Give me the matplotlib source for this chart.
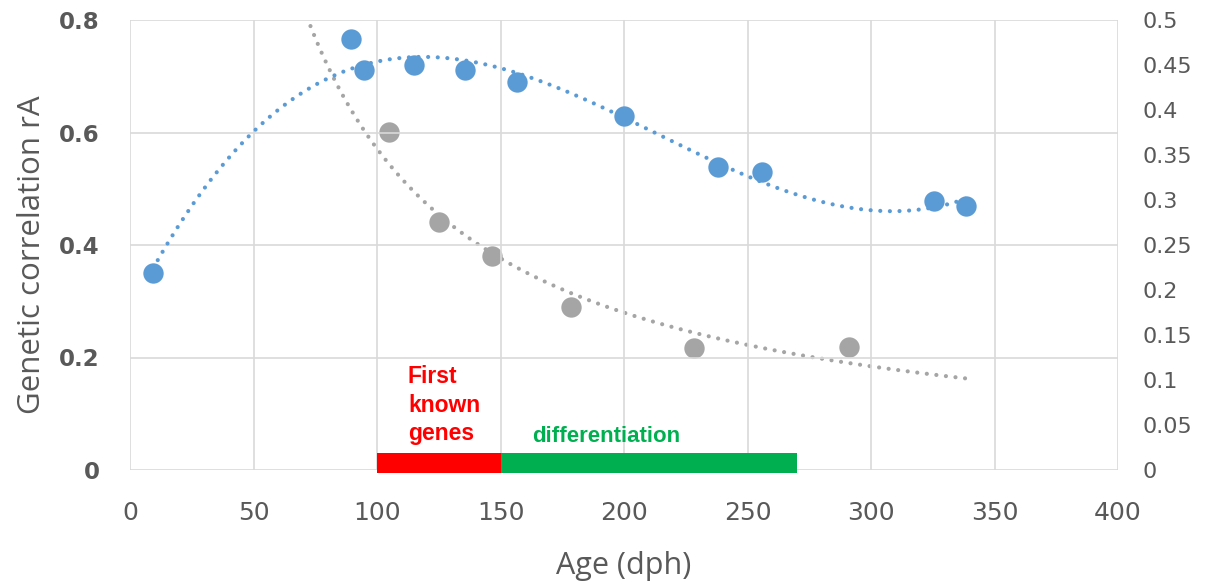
import matplotlib.pyplot as plt
import numpy as np

# blue series (left axis): genetic correlation rA
age_blue = [9.3, 89.5, 94.7, 115, 135.6, 156.7, 200, 238, 256, 325.5, 338.5]
ra_blue = [0.35, 0.766, 0.711, 0.72, 0.711, 0.69, 0.629, 0.539, 0.53, 0.478, 0.469]

# grey series (right axis)
age_grey = [104.9, 125, 146.6, 178.5, 228.3, 291]
val_grey = [0.3756, 0.2756, 0.2378, 0.181, 0.1356, 0.137]

# stage bars
stage_start = [100, 150]
stage_end = [150, 270]
stage_colors = ["#FF0000", "#00B050"]

blue = "#5B9BD5"
grey = "#A5A5A5"
txt = "#595959"

fig = plt.figure(figsize=(12.1, 5.86), dpi=100)
ax = fig.add_axes([130/1210, 1-470/586, 988/1210, 450/586])
ax2 = ax.twinx()

ax.set_xlim(0, 400)
ax.set_ylim(0, 0.8)
ax2.set_ylim(0, 0.5)

ax.set_xticks(np.arange(0, 401, 50))
ax.set_yticks([0, 0.2, 0.4, 0.6, 0.8])
ax.set_yticklabels(["0", "0.2", "0.4", "0.6", "0.8"])
ax2.set_yticks(np.arange(0, 0.501, 0.05))
ax2.set_yticklabels(["0", "0.05", "0.1", "0.15", "0.2", "0.25", "0.3", "0.35", "0.4", "0.45", "0.5"])

ax.grid(True, color="#D9D9D9", linewidth=1.2)
ax.set_axisbelow(True)
for a in (ax, ax2):
    for s in a.spines.values():
        s.set_visible(False)

ax.tick_params(axis="x", length=0, pad=22, labelsize=18, labelcolor=txt)
ax.tick_params(axis="y", length=0, pad=22, labelsize=16.5, labelcolor=txt)
ax2.tick_params(axis="y", length=0, pad=18, labelsize=16, labelcolor=txt)
for lab in ax.get_yticklabels():
    lab.set_fontweight("semibold")

ax.set_xlabel("Age (dph)", fontsize=22, color=txt, family="Open Sans", labelpad=19)
ax.set_ylabel("Genetic correlation rA", fontsize=22.5, color=txt, family="Open Sans")
ax.yaxis.set_label_coords(-0.084, 0.478)

dots = (0, (0.01, 2.3))

# polynomial trendline for blue series
coef = np.polyfit(age_blue, ra_blue, 3)
xb = np.linspace(min(age_blue), max(age_blue), 300)
ax.plot(xb, np.polyval(coef, xb), color=blue, lw=3.0, linestyle=dots,
        dash_capstyle="round", zorder=2)

# power trendline for grey series
b, lna = np.polyfit(np.log(age_grey), np.log(val_grey), 1)
xg = np.linspace(60, max(age_blue), 300)
ax2.plot(xg, np.exp(lna) * xg ** b, color=grey, lw=3.0, linestyle=dots,
         dash_capstyle="round", zorder=2)

ax.scatter(age_blue, ra_blue, s=215, color=blue, zorder=4, linewidths=0)
ax2.scatter(age_grey, val_grey, s=215, color=grey, zorder=4, linewidths=0)

ax.barh([0.0124, 0.0124], np.subtract(stage_end, stage_start), left=stage_start,
        height=0.0355, color=stage_colors, zorder=5, clip_on=False)

ann_font = ["Liberation Sans", "DejaVu Sans"]
ax.text(112.5, 0.0533, "First\nknown\ngenes", color="#FF0000", fontsize=16.5,
        fontweight="bold", family=ann_font, ha="left", va="baseline",
        linespacing=1.3, zorder=6)
ax.text(163, 0.05, "differentiation", color="#00B050", fontsize=16,
        fontweight="bold", family=ann_font, ha="left", va="baseline", zorder=6)

ax.set_zorder(ax2.get_zorder() + 1)
ax.patch.set_visible(False)

fig.savefig("out.png", dpi=100)
